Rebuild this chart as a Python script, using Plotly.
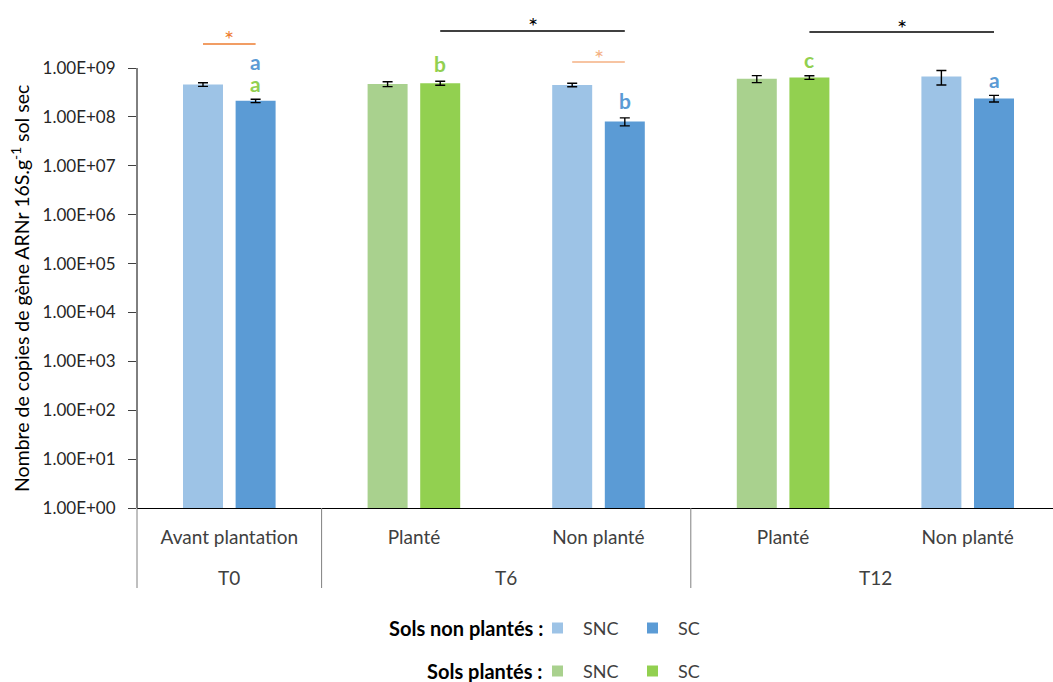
import plotly.graph_objects as go

# ---------------- data ----------------
periods = ["T0", "T6", "T6", "T12", "T12"]
conditions = ["Avant plantation", "Planté", "Non planté", "Planté", "Non planté"]
planted = [False, True, False, True, False]

snc_values = [4.6e8, 4.7e8, 4.5e8, 6.0e8, 6.7e8]
snc_errors = [4.0e7, 5.5e7, 3.6e7, 9.8e7, 2.2e8]
sc_values = [2.13e8, 4.9e8, 8.05e7, 6.4e8, 2.38e8]
sc_errors = [1.7e7, 4.6e7, 1.5e7, 5.6e7, 3.7e7]

tick_values = [10 ** k for k in range(10)]
tick_labels = ["1.00E+%02d" % k for k in range(10)]

# letters above SC bars: (category index, text, colour key, pixel y)
letters = [(0, "a", "blue", 61), (0, "a", "green", 83), (1, "b", "green", 63),
           (2, "b", "blue", 101), (3, "c", "green", 59), (4, "a", "blue", 80)]
# significance brackets: (x from, x to, pixel y line, colour)
brackets = [(-0.1425, 0.1425, 44, "#ED7D31"), (1.8575, 2.1425, 62, "#F4B183"),
            (1.1425, 2.1425, 31, "#000000"), (3.1425, 4.1425, 32, "#000000")]

# ---------------- styles ----------------
C_SNC_NP, C_SC_NP = "#9DC3E6", "#5B9BD5"
C_SNC_P, C_SC_P = "#A9D18E", "#92D050"
FONT = "Lato"
TXT = "#404040"

W, H = 1053, 682
ML, MR, MT, MB = 137, 0, 24, 174
PW, PH = W - ML - MR, H - MT - MB
YTOP = 9.9
XR = [-0.5, 4.5 - 7 / 184.6]


def py2paper(py):
    return (H - MB - py) / PH


def px2paper(px):
    return (px - ML) / PW


def x2paper(xv):
    return (xv - XR[0]) / (XR[1] - XR[0])


idx = list(range(len(conditions)))
snc_colors = [C_SNC_P if p else C_SNC_NP for p in planted]
sc_colors = [C_SC_P if p else C_SC_NP for p in planted]

fig = go.Figure()
fig.add_trace(go.Bar(x=idx, y=snc_values, name="SNC", marker=dict(color=snc_colors, line=dict(width=0)),
                     error_y=dict(type="data", array=snc_errors, color="black", thickness=1.4, width=5)))
fig.add_trace(go.Bar(x=idx, y=sc_values, name="SC", marker=dict(color=sc_colors, line=dict(width=0)),
                     error_y=dict(type="data", array=sc_errors, color="black", thickness=1.4, width=5)))

off = 0.1425
annotations = []
shapes = []
for i, t, ck, py in letters:
    annotations.append(dict(x=i + off, y=py2paper(py), xref="x", yref="paper", text="<b>%s</b>" % t,
                            showarrow=False, font=dict(family=FONT, size=21,
                                                       color=C_SC_NP if ck == "blue" else C_SC_P),
                            xanchor="center", yanchor="middle"))
for x0, x1, py, col in brackets:
    shapes.append(dict(type="line", xref="x", yref="paper", x0=x0, x1=x1, y0=py2paper(py), y1=py2paper(py),
                       line=dict(color=col, width=1.3)))
    annotations.append(dict(x=(x0 + x1) / 2, y=py2paper(py - 5), xref="x", yref="paper", text="*",
                            showarrow=False, font=dict(family=FONT, size=24, color=col),
                            xanchor="center", yanchor="middle"))

# y axis line (stops at 1E+09)
shapes.append(dict(type="line", xref="paper", yref="paper", x0=0, x1=0, y0=0, y1=9 / YTOP,
                   line=dict(color="black", width=1)))

# outer category labels and dividers
groups = []
for i, p in enumerate(periods):
    if not groups or groups[-1][0] != p:
        groups.append([p, i, i])
    else:
        groups[-1][2] = i
bounds = sorted(set([g[1] - 0.5 for g in groups] + [g[2] + 0.5 for g in groups]))
for b in bounds:
    if XR[0] <= b <= XR[1]:
        shapes.append(dict(type="line", xref="paper", yref="paper", x0=x2paper(b), x1=x2paper(b),
                           y0=0, y1=py2paper(588), line=dict(color="#808080", width=1)))
for p, a, z in groups:
    annotations.append(dict(x=(a + z) / 2, y=py2paper(577), xref="x", yref="paper", text=p,
                            showarrow=False, font=dict(family=FONT, size=19, color=TXT),
                            xanchor="center", yanchor="middle"))

# y title
annotations.append(dict(x=px2paper(20), y=py2paper(289), xref="paper", yref="paper",
                        text="Nombre de copies de gène ARNr 16S.g<sup>-1</sup> sol sec", textangle=-90,
                        showarrow=False, font=dict(family=FONT, size=19.5, color="black"),
                        xanchor="center", yanchor="middle"))

# legend
legend_rows = [("Sols non plantés :", 628, C_SNC_NP, C_SC_NP), ("Sols plantés :", 671, C_SNC_P, C_SC_P)]
for label, py, c1, c2 in legend_rows:
    annotations.append(dict(x=px2paper(545), y=py2paper(py), xref="paper", yref="paper",
                            text="<b>%s</b>" % label, showarrow=False,
                            font=dict(family=FONT, size=20, color="black"), xanchor="right", yanchor="middle"))
    for sx, col, name in [(552, c1, "SNC"), (647, c2, "SC")]:
        shapes.append(dict(type="rect", xref="paper", yref="paper", x0=px2paper(sx), x1=px2paper(sx + 11),
                           y0=py2paper(py + 5.5), y1=py2paper(py - 5.5), line=dict(width=0), fillcolor=col))
        annotations.append(dict(x=px2paper(sx + 29), y=py2paper(py), xref="paper", yref="paper",
                                text=name, showarrow=False, font=dict(family=FONT, size=18, color=TXT),
                                xanchor="left", yanchor="middle"))

fig.update_layout(
    width=W, height=H, autosize=False,
    margin=dict(l=ML, r=MR, t=MT, b=MB),
    plot_bgcolor="white", paper_bgcolor="white",
    barmode="group", bargap=0.43, bargroupgap=0.24,
    showlegend=False,
    font=dict(family=FONT, color=TXT),
    annotations=annotations, shapes=shapes,
)
fig.update_yaxes(type="log", range=[0, YTOP], tickvals=tick_values, ticktext=tick_labels,
                 ticks="outside", ticklen=8, tickcolor="#404040", showgrid=False, zeroline=False,
                 showline=False, ticklabelstandoff=9, tickfont=dict(family=FONT, size=17, color="#262626"))
fig.update_xaxes(range=XR, tickvals=idx, ticktext=conditions, showline=True, linecolor="black",
                 linewidth=1, ticks="", showgrid=False, zeroline=False, ticklabelstandoff=12,
                 tickfont=dict(family=FONT, size=19, color=TXT))

fig.write_html("out.html", config={"displayModeBar": False},
               post_script="document.body.style.margin='0px';")
